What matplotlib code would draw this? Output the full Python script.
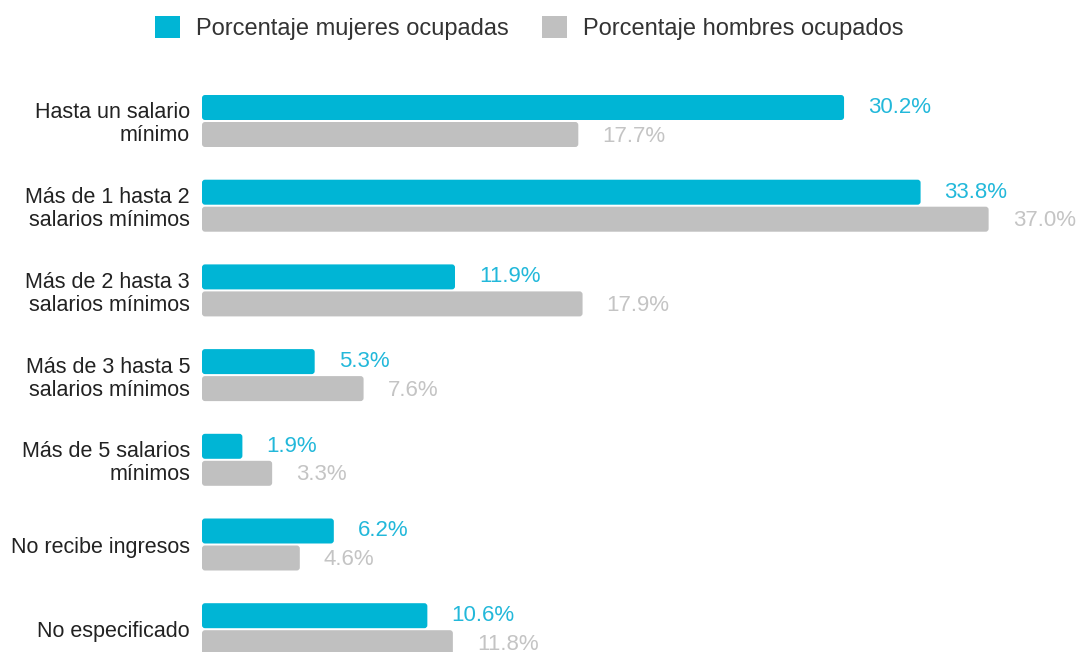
import matplotlib
matplotlib.use("Agg")
import matplotlib.pyplot as plt
from matplotlib.patches import FancyBboxPatch, Patch
import numpy as np

plt.rcParams['font.family'] = ['Liberation Sans', 'DejaVu Sans']

categories = ["Hasta un salario\nmínimo", "Más de 1 hasta 2\nsalarios mínimos", "Más de 2 hasta 3\nsalarios mínimos",
              "Más de 3 hasta 5\nsalarios mínimos", "Más de 5 salarios\nmínimos", "No recibe ingresos",
              "No especificado"]
mujeres = [30.2, 33.8, 11.9, 5.3, 1.9, 6.2, 10.6]
hombres = [17.7, 37.0, 17.9, 7.6, 3.3, 4.6, 11.8]
series_names = ["Porcentaje mujeres ocupadas", "Porcentaje hombres ocupados"]

c_m = "#00B5D5"
c_h = "#C0C0C0"
t_m = "#22B8DA"
t_h = "#C4C4C4"

W, H = 1076, 652
fig = plt.figure(figsize=(W/100, H/100), dpi=100)
left_px = 202
ax = fig.add_axes([left_px/W, 0, 1 - left_px/W, 1])
px_per_unit = 21.26
ax.set_xlim(0, (W - left_px)/px_per_unit)
gap = 84.7
c0 = 121
ax.set_ylim((H - c0)/gap, -c0/gap)

y = np.arange(len(categories))
bh = 25/gap
off = 13.5/gap
b1 = ax.barh(y - off, mujeres, height=bh, color=c_m)
b2 = ax.barh(y + off, hombres, height=bh, color=c_h)

rx = 3/px_per_unit
ry = 3/gap
for bars in (b1, b2):
    for p in bars:
        x0, y0 = p.get_x(), p.get_y()
        w, h = p.get_width(), p.get_height()
        fb = FancyBboxPatch((x0, y0), w, h,
                            boxstyle=f"round,pad=0,rounding_size={rx}",
                            mutation_aspect=ry/rx,
                            facecolor=p.get_facecolor(), edgecolor='none')
        p.set_visible(False)
        ax.add_patch(fb)

lab_off = 24/px_per_unit
for i in range(len(categories)):
    ax.text(mujeres[i] + lab_off, y[i] - off, f"{mujeres[i]:.1f}%", va='center', ha='left',
            color=t_m, fontsize=16)
    ax.text(hombres[i] + lab_off, y[i] + off + 0.02, f"{hombres[i]:.1f}%", va='center', ha='left',
            color=t_h, fontsize=16)

ax.set_yticks(y)
ax.set_yticklabels(categories, fontsize=15.5, color="#222222", linespacing=1.12)
ax.tick_params(axis='y', length=0, pad=8.6)
ax.set_xticks([])
for s in ax.spines.values():
    s.set_visible(False)

handles = [Patch(facecolor=c_m, edgecolor='none'), Patch(facecolor=c_h, edgecolor='none')]
fig.legend(handles, series_names, loc='center', bbox_to_anchor=(529/W, 1 - 28/H), ncol=2,
           frameon=False, fontsize=17, handlelength=1.06, handleheight=1.06,
           handletextpad=0.68, columnspacing=1.4, labelcolor="#333333")

fig.savefig("out.png", dpi=100)
